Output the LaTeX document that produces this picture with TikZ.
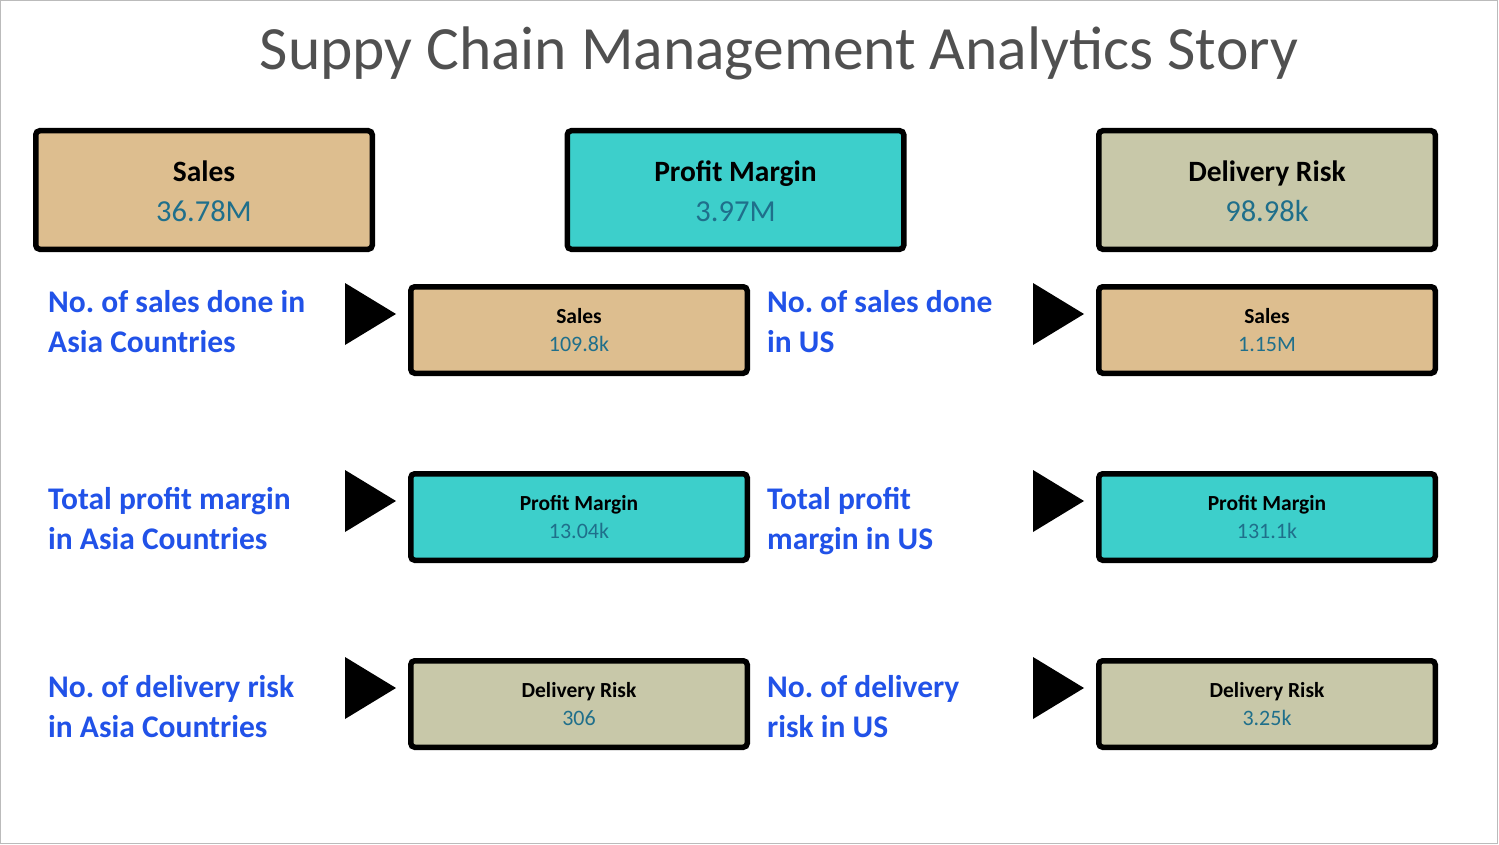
\documentclass[tikz,border=0pt]{standalone}
\usepackage{fontspec}
\setmainfont{Carlito}
\frenchspacing
\usetikzlibrary{positioning}
\definecolor{tanfill}{HTML}{DDBE8F}
\definecolor{tealfill}{HTML}{3DCFCB}
\definecolor{khakifill}{HTML}{C8C8A9}
\definecolor{valblue}{HTML}{1F6F8B}
\definecolor{labelblue}{HTML}{2152E8}
\definecolor{titlegray}{HTML}{505050}
\definecolor{framegray}{HTML}{BBBBBB}
\newcommand{\pointer}[1]{\fill ([xshift=-63pt,yshift=1pt]#1.north west) -- ++(51pt,-31pt) -- ++(-51pt,-31pt) -- cycle;}
\newcommand{\bigkpi}[2]{\rule{0pt}{23pt}{\bfseries #1}\\{\fontsize{30.5}{40}\selectfont\color{valblue}#2}}
\newcommand{\smallkpi}[2]{{\bfseries #1}\\{\fontsize{22}{28}\selectfont\color{valblue}#2}}

\begin{document}
\begin{tikzpicture}[x=1pt,y=-1pt,
  kpi/.style={rectangle,draw,line width=5.5pt,rounded corners=4pt,inner sep=0pt,
    minimum width=336.5pt,minimum height=118.5pt,align=center,
    font=\fontsize{29.5}{40}\selectfont},
  subkpi/.style={kpi,minimum height=86.5pt,font=\fontsize{21.5}{28}\selectfont},
  lbl/.style={anchor=west,inner sep=0pt,align=left,text=labelblue,
    font=\fontsize{31.5}{40}\selectfont\bfseries}]

  \useasboundingbox (0,0) rectangle (1499,845);
  \draw[framegray] (0.5,0.5) rectangle (1497,843);

  \node[anchor=base,text=titlegray,font=\fontsize{61.5}{70}\selectfont] (T) at (779,70)
    {Suppy Chain Management Analytics Story};

  % Kennzahlen oben
  \node[kpi,fill=tanfill] (S) at (204,190) {\bigkpi{Sales}{36.78M}};
  \node[kpi,fill=tealfill] (PM) [right=531.5pt of S.center,anchor=center] {\bigkpi{Profit Margin}{3.97M}};
  \node[kpi,fill=khakifill] (DR) [right=531.5pt of PM.center,anchor=center] {\bigkpi{Delivery Risk}{98.98k}};

  % Asien
  \node[subkpi,fill=tanfill] (SA) at (579,330) {\smallkpi{Sales}{109.8k}};
  \node[subkpi,fill=tealfill] (PA) [below=187pt of SA.center,anchor=center] {\smallkpi{Profit Margin}{13.04k}};
  \node[subkpi,fill=khakifill] (DA) [below=187pt of PA.center,anchor=center] {\smallkpi{Delivery Risk}{306}};

  % US
  \node[subkpi,fill=tanfill] (SU) [right=688pt of SA.center,anchor=center] {\smallkpi{Sales}{1.15M}};
  \node[subkpi,fill=tealfill] (PU) [right=688pt of PA.center,anchor=center] {\smallkpi{Profit Margin}{131.1k}};
  \node[subkpi,fill=khakifill] (DU) [right=688pt of DA.center,anchor=center] {\smallkpi{Delivery Risk}{3.25k}};

  \node[lbl] (LSA) at (48,322) {No. of sales done in\\Asia Countries};
  \node[lbl] (LPA) at (48,519) {Total profit margin\\in Asia Countries};
  \node[lbl] (LDA) at (48,707) {No. of delivery risk\\in Asia Countries};
  \node[lbl] (LSU) at (767,322) {No. of sales done\\in US};
  \node[lbl] (LPU) at (767,521) {Total profit\\margin in US};
  \node[lbl] (LDU) at (767,707) {No. of delivery\\risk in US};

  \pointer{SA} \pointer{PA} \pointer{DA}
  \pointer{SU} \pointer{PU} \pointer{DU}

\end{tikzpicture}
\end{document}
